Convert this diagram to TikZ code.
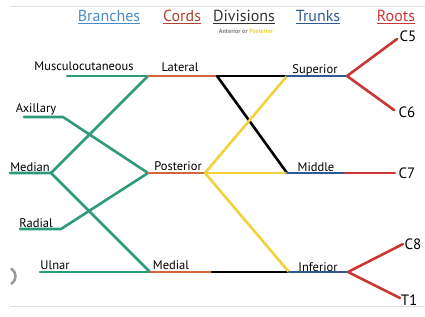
\documentclass[tikz,border=0pt]{standalone}
\usepackage{fontspec}
\setmainfont{PT Sans}
\usetikzlibrary{positioning}

\definecolor{branchgreen}{HTML}{2E9A7C}
\definecolor{cordorange}{HTML}{D4643C}
\definecolor{divyellow}{HTML}{F2D23A}
\definecolor{trunkblue}{HTML}{2C5A92}
\definecolor{rootred}{HTML}{CC3535}
\definecolor{headblue}{HTML}{4A8CC8}
\definecolor{headbrown}{HTML}{A8442F}
\definecolor{headgray}{HTML}{333333}

\begin{document}
\begin{tikzpicture}[
x=1pt, y=-1pt,
every node/.style={font=\fontsize{12.5}{14}\selectfont, inner sep=0pt},
header/.style={font=\fontsize{16}{18}\selectfont},
rootlabel/.style={font=\fontsize{15}{17}\selectfont},
nerve/.style={line width=2.6pt, line cap=round, line join=round},
branch/.style={nerve, branchgreen},
cord/.style={nerve, cordorange},
anterior/.style={nerve, black},
posterior/.style={nerve, divyellow},
trunk/.style={nerve, trunkblue},
root/.style={nerve, rootred}
]

\useasboundingbox (0,0) rectangle (425,316);
\draw[gray!25, line width=0.8pt] (10,6) -- (425,6);
\draw[gray!25, line width=0.8pt] (10,306) -- (425,306);
\draw[gray!80, line width=2.5pt] (11,284) arc[start angle=60, end angle=-60, radius=9];

% TITULOS
\node (tBranches) [header, text=headblue] at (109,17) {\underline{Branches}};
\node (tCords) [header, text=headbrown] at (182,17) {\underline{Cords}};
\node (tDivisions) [header, text=headgray] at (244,17) {\underline{Divisions}};
\node (tSub) [font=\fontsize{6.2}{7}\selectfont\bfseries, text=gray] at (246,31) {Anterior or \textcolor{divyellow}{Posterior}};
\node (tTrunks) [header, text=trunkblue] at (318,17) {\underline{Trunks}};
\node (tRoots) [header, text=rootred] at (396,17) {\underline{Roots}};

% UNIONES
\coordinate (muscEnd) at (67,76);
\coordinate (latJ) at (148,76);
\coordinate (latDiv) at (217,76);
\coordinate (supJ) at (287,76);
\coordinate (supRoot) at (347,76);
\coordinate (c5End) at (397,39);
\coordinate (c6End) at (394,110);

\coordinate (axEnd) at (24,117);
\coordinate (axBend) at (63,117);
\coordinate (medEnd) at (10,173);
\coordinate (medJ) at (51,173);
\coordinate (postJ) at (148,173);
\coordinate (postDiv) at (205,173);
\coordinate (midJ) at (287,173);
\coordinate (midRoot) at (345,173);
\coordinate (c7End) at (395,173);

\coordinate (radEnd) at (20,229);
\coordinate (radBend) at (61,229);
\coordinate (ulnEnd) at (40,272);
\coordinate (mdlJ) at (150,272);
\coordinate (mdlDiv) at (212,272);
\coordinate (infJ) at (289,272);
\coordinate (infRoot) at (348,272);
\coordinate (c8End) at (403,244);
\coordinate (t1End) at (400,298);

% RAMAS
\draw[branch] (muscEnd) -- (latJ);
\draw[branch] (medJ) -- (latJ);
\draw[branch] (axEnd) -- (axBend) -- (postJ);
\draw[branch] (radEnd) -- (radBend) -- (postJ);
\draw[branch] (medEnd) -- (medJ) -- (mdlJ);
\draw[branch] (ulnEnd) -- (mdlJ);

% CORDONES
\draw[cord] (latJ) -- (latDiv);
\draw[cord] (postJ) -- (postDiv);
\draw[cord] (mdlJ) -- (mdlDiv);

% DIVISIONES
\draw[anterior] (latDiv) -- (supJ);
\draw[anterior] (latDiv) -- (midJ);
\draw[anterior] (mdlDiv) -- (infJ);
\draw[posterior] (postDiv) -- (supJ);
\draw[posterior] (postDiv) -- (midJ);
\draw[posterior] (postDiv) -- (infJ);

% TRONCOS
\draw[trunk] (supJ) -- (supRoot);
\draw[trunk] (midJ) -- (midRoot);
\draw[trunk] (infJ) -- (infRoot);

% RAICES
\draw[root] (c5End) -- (supRoot) -- (c6End);
\draw[root] (midRoot) -- (c7End);
\draw[root] (c8End) -- (infRoot) -- (t1End);

% ETIQUETAS
\node (musc) at (84,66) {Musculocutaneous};
\node (lat) at (180,67) {Lateral};
\node (sup) at (315,70) {Superior};
\node (ax) at (36,109) {Axillary};
\node (med) at (30,167) {Median};
\node (post) at (178,166) {Posterior};
\node (mid) at (316,167) {Middle};
\node (rad) at (36,223) {Radial};
\node (uln) at (55,265) {Ulnar};
\node (mdl) at (171,265) {Medial};
\node (inf) at (318,267) {Inferior};
\node (c5) [rootlabel] at (408,36) {C5};
\node (c6) [rootlabel] at (407,112) {C6};
\node (c7) [rootlabel] at (407,173) {C7};
\node (c8) [rootlabel] at (413,244) {C8};
\node (t1) [rootlabel] at (409,300) {T1};

\end{tikzpicture}
\end{document}
